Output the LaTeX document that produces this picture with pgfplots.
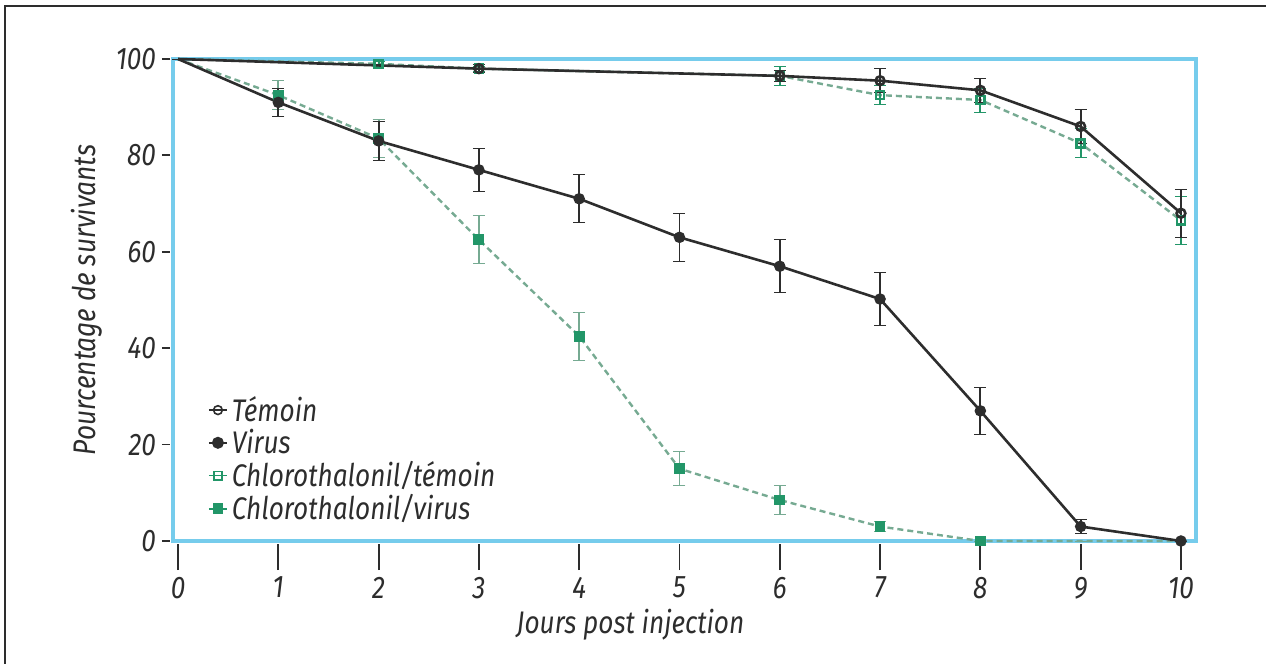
\documentclass[border=0pt]{standalone}
\usepackage{fontspec}
\setmainfont{Fira Sans}[FakeStretch=0.84]
\usepackage{pgfplots}
\pgfplotsset{compat=1.18}
\definecolor{boxblue}{RGB}{118,204,236}
\definecolor{cgreen}{RGB}{34,150,104}
\definecolor{cdash}{RGB}{118,170,146}
\definecolor{ink}{RGB}{45,45,45}
\newcommand{\lblfont}{\itshape\fontsize{15.6}{18}\selectfont}
\begin{document}
\begin{tikzpicture}[x=0.5pt,y=0.5pt]
% page extent and the partial outer frame
\useasboundingbox (-173,-123) rectangle (1093,541);
\draw[ink,line width=1.2pt] (-168,-123) -- (-168,535) -- (1093,535);
\begin{axis}[
  at={(0,0)}, anchor=south west,
  scale only axis, width=511.5pt, height=241pt,
  xmin=-0.05, xmax=10.15, ymin=0, ymax=100,
  axis line style={boxblue, line width=1.8pt},
  xtick={0,...,10}, ytick={0,20,...,100},
  tick align=outside, tick pos=left,
  tick style={ink, line width=0.9pt},
  major tick length=4pt,
  ytick style={xshift=-1.5pt},
  xtick style={/pgfplots/major tick length=13pt, yshift=-1.5pt},
  x tick label style={yshift=-10.5pt},
  y tick label style={xshift=-1pt},
  font=\lblfont,
  tick label style={font=\lblfont, text=ink},
  /pgf/number format/assume math mode=true,
  xlabel={Jours post injection},
  ylabel={Pourcentage de survivants},
  xlabel style={yshift=2pt, xshift=-27pt, text=ink},
  ylabel style={yshift=0pt, text=ink},
  clip=false,
  legend style={at={(0.028,0.318)}, anchor=north west, draw=none,
    fill=white, font=\lblfont, text=ink,
    row sep=-1.5pt, inner xsep=3pt, inner ysep=2pt},
  legend cell align=left,
  legend image code/.code={%
    \draw[mark repeat=2, mark phase=2, #1] plot coordinates {(0cm,0cm) (0.16cm,0cm) (0.32cm,0cm)};},
  error bars/error bar style={line width=0.9pt},
  error bars/error mark options={rotate=90, mark size=3pt, line width=0.9pt},
]
\addlegendimage{ink, line width=0.8pt, mark=o, mark size=2.2pt, mark options={solid, fill=white}}
\addlegendentry{Témoin}
\addlegendimage{ink, line width=0.8pt, mark=*, mark size=2.6pt}
\addlegendentry{Virus}
\addlegendimage{cgreen, line width=0.8pt, mark=square, mark size=2.1pt, mark options={solid, fill=white}}
\addlegendentry{Chlorothalonil/témoin}
\addlegendimage{cgreen, line width=0.8pt, mark=square*, mark size=2.3pt}
\addlegendentry{Chlorothalonil/virus}

% Chlorothalonil/virus
\addplot[forget plot, cdash, densely dashed, line width=1.2pt,
  mark=square*, mark size=2.1pt, mark options={solid, cgreen},
  mark indices={2,...,9},
  error bars/.cd, y dir=both, y explicit,
  error bar style={cdash, solid}, error mark options={cdash, solid, rotate=90, mark size=3pt}]
coordinates {
 (0,100) +- (0,0)
 (1,92.5) +- (0,3)
 (2,83.5) +- (0,4)
 (3,62.5) +- (0,5)
 (4,42.5) +- (0,5)
 (5,15) +- (0,3.5)
 (6,8.5) +- (0,3)
 (7,3) +- (0,1)
 (8,0) +- (0,0)
 (9,0) +- (0,0)
 (10,0) +- (0,0)
};
% Chlorothalonil/témoin
\addplot[forget plot, cdash, densely dashed, line width=1.2pt,
  mark=square, mark size=2pt, mark options={solid, cgreen, fill=white},
  mark indices={2,...,8},
  error bars/.cd, y dir=both, y explicit,
  error bar style={cgreen, solid}, error mark options={cgreen, solid, rotate=90, mark size=3pt}]
coordinates {
 (0,100) +- (0,0)
 (2,99) +- (0,0.5)
 (3,98) +- (0,0.5)
 (6,96.5) +- (0,2)
 (7,92.5) +- (0,2)
 (8,91.5) +- (0,2.5)
 (9,82.5) +- (0,3)
 (10,66.5) +- (0,5)
};
% Témoin
\addplot[forget plot, ink, line width=1.3pt,
  mark=o, mark size=2.2pt, mark options={fill=white},
  mark indices={2,...,7},
  error bars/.cd, y dir=both, y explicit,
  error bar style={ink}, error mark options={ink, rotate=90, mark size=3pt}]
coordinates {
 (0,100) +- (0,0)
 (3,98) +- (0,0.8)
 (6,96.5) +- (0,1.2)
 (7,95.5) +- (0,2.5)
 (8,93.5) +- (0,2.5)
 (9,86) +- (0,3.5)
 (10,68) +- (0,5)
};
% Virus
\addplot[forget plot, ink, line width=1.3pt,
  mark=*, mark size=2.2pt,
  mark indices={2,...,11},
  error bars/.cd, y dir=both, y explicit,
  error bar style={ink}, error mark options={ink, rotate=90, mark size=3pt}]
coordinates {
 (0,100) +- (0,0)
 (1,91) +- (0,3)
 (2,83) +- (0,4)
 (3,77) +- (0,4.5)
 (4,71) +- (0,5)
 (5,63) +- (0,5)
 (6,57) +- (0,5.5)
 (7,50.2) +- (0,5.5)
 (8,27) +- (0,4.8)
 (9,3) +- (0,1.5)
 (10,0) +- (0,0)
};
\end{axis}
\end{tikzpicture}
\end{document}
